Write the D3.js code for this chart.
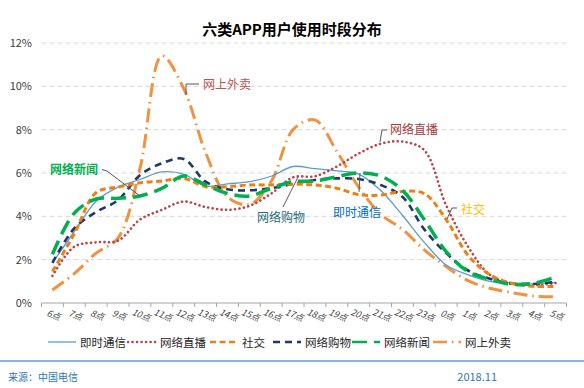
<!DOCTYPE html>
<html>
<head>
<meta charset="utf-8">
<script src="https://cdn.jsdelivr.net/npm/d3@7"></script>
<style>
  body { margin: 0; background: #fff; }
  svg { font-family: "Noto Sans CJK SC", "Noto Sans", sans-serif; }
</style>
</head>
<body>
<svg width="584" height="388"></svg>
<script>
// 时段
var hours = ["6点","7点","8点","9点","10点","11点","12点","13点","14点","15点","16点","17点",
             "18点","19点","20点","21点","22点","23点","0点","1点","2点","3点","4点","5点"];

// 各类APP使用占比 (%)
var imData       = [1.85, 3.3, 4.7, 5.35, 5.7, 6.05, 5.95, 5.4, 5.5, 5.6, 5.85, 6.3, 6.2, 6.1, 5.95, 5.2, 4.05, 2.8, 1.75, 1.3, 1.0, 0.92, 0.88, 0.95];
var liveData     = [1.25, 2.6, 2.8, 2.88, 3.85, 4.3, 4.68, 4.43, 4.3, 4.48, 5.05, 5.8, 5.85, 6.3, 6.9, 7.35, 7.45, 7.05, 4.5, 2.6, 1.3, 0.9, 0.82, 0.92];
var socialData   = [1.45, 3.2, 5.1, 5.35, 5.55, 5.63, 5.75, 5.37, 5.37, 5.45, 5.45, 5.48, 5.45, 5.3, 5.0, 4.98, 5.15, 5.05, 3.85, 2.2, 1.3, 0.91, 0.77, 0.77];
var shopData     = [1.85, 3.45, 4.2, 4.75, 5.9, 6.45, 6.65, 5.6, 5.25, 5.2, 5.3, 5.5, 5.68, 5.75, 5.72, 5.45, 4.9, 3.4, 2.3, 1.5, 1.12, 0.9, 0.88, 0.98];
var newsData     = [2.25, 4.15, 4.8, 4.83, 4.94, 5.29, 5.86, 5.45, 5.06, 4.94, 5.29, 5.6, 5.63, 5.83, 6.0, 5.86, 5.2, 3.85, 2.37, 1.45, 1.09, 0.86, 0.91, 1.2];
var takeoutData  = [0.6, 1.36, 2.3, 3.0, 6.2, 11.4, 9.9, 6.95, 4.9, 4.55, 5.6, 8.0, 8.45, 7.0, 5.35, 4.1, 3.4, 2.45, 1.68, 1.03, 0.68, 0.48, 0.32, 0.29];

var yTicks = [0, 2, 4, 6, 8, 10, 12];

var seriesNames = ["即时通信", "网络直播", "社交", "网络购物", "网络新闻", "网上外卖"];

var series = [
  {name: "网上外卖", values: takeoutData, color: "#F0923E", width: 3,   dash: "14,5,1.5,5", cap: "butt"},
  {name: "即时通信", values: imData,      color: "#5B9BD5", width: 1.3, dash: null, cap: "butt"},
  {name: "网络直播", values: liveData,    color: "#B9474A", width: 2.6, dash: "0.1,4.4", cap: "round"},
  {name: "网络购物", values: shopData,    color: "#1F3864", width: 2.6, dash: "7,5", cap: "butt"},
  {name: "社交",     values: socialData,  color: "#F07F12", width: 3,   dash: "6,3.5", cap: "butt"},
  {name: "网络新闻", values: newsData,    color: "#00B050", width: 3.5, dash: "15,7", cap: "butt"}
];
var byName = {};
series.forEach(function(s) { byName[s.name] = s; });

var svg = d3.select("svg");
var margin = {left: 41.5, right: 17.5, top: 43, bottom: 85};
var W = 584, H = 388;

var x = d3.scaleBand()
    .domain(hours)
    .range([margin.left, W - margin.right]);

var y = d3.scaleLinear()
    .domain([0, 12])
    .range([H - margin.bottom, margin.top]);

// title
svg.append("text")
    .attr("x", 292).attr("y", 35)
    .attr("text-anchor", "middle")
    .attr("font-size", 15).attr("font-weight", "bold")
    .attr("fill", "#000")
    .text("六类APP用户使用时段分布");

// gridlines
svg.append("g")
    .selectAll("line")
    .data(yTicks.filter(d => d > 0))
    .enter().append("line")
    .attr("x1", margin.left).attr("x2", W - margin.right)
    .attr("y1", d => y(d)).attr("y2", d => y(d))
    .attr("stroke", "#D9D9D9")
    .attr("stroke-dasharray", "5,3");

// y labels
svg.append("g")
    .selectAll("text")
    .data(yTicks)
    .enter().append("text")
    .attr("x", 32).attr("y", d => y(d) + 4)
    .attr("text-anchor", "end")
    .attr("font-size", 11)
    .attr("fill", "#404040")
    .text(d => d + "%");

// x axis
var xAxis = svg.append("g");
xAxis.append("line")
    .attr("x1", margin.left).attr("x2", W - margin.right)
    .attr("y1", y(0)).attr("y2", y(0))
    .attr("stroke", "#A6A6A6");
xAxis.selectAll("line.tk")
    .data(d3.range(hours.length + 1))
    .enter().append("line")
    .attr("class", "tk")
    .attr("x1", i => margin.left + i * x.step())
    .attr("x2", i => margin.left + i * x.step())
    .attr("y1", y(0)).attr("y2", y(0) + 4)
    .attr("stroke", "#A6A6A6");
xAxis.selectAll("text")
    .data(hours)
    .enter().append("text")
    .attr("transform", d => "translate(" + (x(d) + x.bandwidth() / 2) + "," + (y(0) + 15) + ") rotate(22)")
    .attr("text-anchor", "middle")
    .attr("font-size", 9)
    .attr("font-style", "italic")
    .attr("fill", "#404040")
    .text(d => d);

// lines
var line = d3.line()
    .x((d, i) => x(hours[i]) + x.bandwidth() / 2)
    .y(d => y(d))
    .curve(d3.curveCatmullRom.alpha(0.5));

svg.append("g")
    .selectAll("path")
    .data(series)
    .enter().append("path")
    .attr("d", d => line(d.values))
    .attr("fill", "none")
    .attr("stroke", d => d.color)
    .attr("stroke-width", d => d.width)
    .attr("stroke-dasharray", d => d.dash)
    .attr("stroke-linecap", d => d.cap);

// annotations
var notes = [
  {text: "网上外卖", color: "#C0504D", tx: 203, ty: 89, path: [[186, 95], [186, 84], [199, 84]]},
  {text: "网络直播", color: "#A33B3B", tx: 390, ty: 134, path: [[380, 142], [382, 130], [387, 130]]},
  {text: "网络新闻", color: "#00B050", tx: 50, ty: 174, bold: true, path: [[102, 169.5], [107, 171], [140, 196]]},
  {text: "网络购物", color: "#276A7C", tx: 257, ty: 222, path: [[283, 207], [298, 177]]},
  {text: "即时通信", color: "#0070C0", tx: 333, ty: 217, path: [[359, 192], [360, 173]]},
  {text: "社交",     color: "#FFC000", tx: 461, ty: 214, path: [[447, 219], [452, 208], [457, 208]]}
];
var ng = svg.append("g");
notes.forEach(function(n) {
  ng.append("path")
      .attr("d", d3.line()(n.path))
      .attr("fill", "none")
      .attr("stroke", "#595959")
      .attr("stroke-width", 1);
  ng.append("text")
      .attr("x", n.tx).attr("y", n.ty)
      .attr("font-size", 12)
      .attr("font-weight", n.bold ? "bold" : "normal")
      .attr("fill", n.color)
      .text(n.text);
});

// legend
var legendX = [48, 128, 210, 273, 352, 433];
var lg = svg.append("g").attr("transform", "translate(0,342)");
seriesNames.forEach(function(name, i) {
  var s = byName[name];
  var x0 = legendX[i];
  lg.append("line")
      .attr("x1", x0).attr("x2", x0 + 28)
      .attr("y1", 0).attr("y2", 0)
      .attr("stroke", s.color)
      .attr("stroke-width", Math.min(s.width, 2.6))
      .attr("stroke-dasharray", s.dash)
      .attr("stroke-linecap", s.cap);
  lg.append("text")
      .attr("x", x0 + 32).attr("y", 4.5)
      .attr("font-size", 11.5)
      .attr("fill", "#262626")
      .text(name);
});

// footer
svg.append("line")
    .attr("x1", 0).attr("x2", W)
    .attr("y1", 361).attr("y2", 361)
    .attr("stroke", "#5B9BD5")
    .attr("stroke-width", 1.5);
svg.append("text")
    .attr("x", 8).attr("y", 381)
    .attr("font-size", 10)
    .attr("fill", "#2E75B6")
    .text("来源：中国电信");
svg.append("text")
    .attr("x", 497).attr("y", 381)
    .attr("text-anchor", "end")
    .attr("font-size", 11)
    .attr("fill", "#2E75B6")
    .text("2018.11");
</script>
</body>
</html>
